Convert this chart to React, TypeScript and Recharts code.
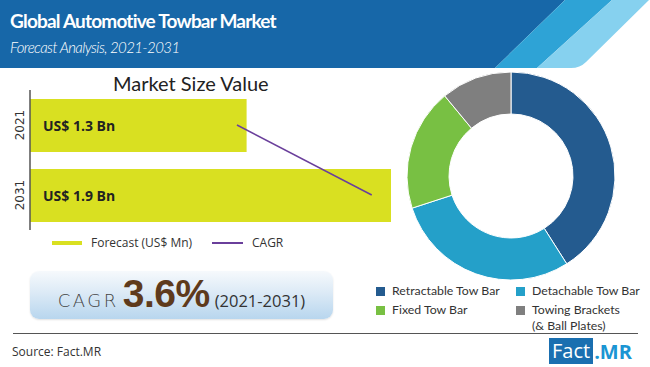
import { ComposedChart, Bar, Line, XAxis, YAxis, LabelList, PieChart, Pie, Cell } from "recharts";

const years = ["2021", "2031"];
const marketSize = [1.3, 1.9]; // US$ Bn
const cagrTrend = [1.26, 1.82];

const segments = [
  "Retractable Tow Bar",
  "Detachable Tow Bar",
  "Fixed Tow Bar",
  "Towing Brackets\n(& Ball Plates)",
];
const shares = [41, 29, 19, 11];
const segmentColors = ["#245B8F", "#24A0C9", "#78C043", "#7F7F7F"];

const barData = years.map((year, i) => ({ year, value: marketSize[i], cagr: cagrTrend[i] }));
const pieData = segments.map((name, i) => ({ name, value: shares[i] }));

const BAR_COLOR = "#D9E021";
const LINE_COLOR = "#6A3F9B";

const YearTick = (props: any) => {
  const { x, y, payload } = props;
  return (
    <text
      x={x}
      y={y}
      transform={`rotate(-90 ${x} ${y})`}
      textAnchor="middle"
      dominantBaseline="central"
      fontSize={12}
      fontFamily="'DejaVu Sans'"
      fill="#333"
    >
      {payload.value}
    </text>
  );
};

const ValueLabel = (props: any) => {
  const { x, y, height, value } = props;
  return (
    <text
      x={x + 13}
      y={y + height / 2}
      dominantBaseline="central"
      fontSize={14}
      fontWeight={700}
      fontFamily="'Open Sans'"
      fill="#222"
    >
      {`US$ ${value} Bn`}
    </text>
  );
};

export default function App() {
  return (
    <div
      style={{
        position: "absolute",
        left: 0,
        top: 0,
        width: 650,
        height: 367,
        background: "#fff",
        overflow: "hidden",
        fontFamily: "Lato, sans-serif",
      }}
    >
      {/* header band */}
      <svg width={650} height={68} style={{ position: "absolute", left: 0, top: 0 }}>
        <polygon points="0,0 565,0 495,68 0,68" fill="#1767A8" />
        <polygon points="565,0 612,0 537,68 495,68" fill="#2EA3D6" />
        <path d="M612,0 L649,0 L586,62 Q580,68 571,68 L537,68 Z" fill="#86D1EF" />
      </svg>
      <div
        style={{
          position: "absolute",
          left: 10,
          top: 9,
          color: "#fff",
          fontSize: 19,
          fontWeight: 700,
          letterSpacing: -0.8,
          whiteSpace: "nowrap",
        }}
      >
        Global Automotive Towbar Market
      </div>
      <div
        style={{
          position: "absolute",
          left: 10,
          top: 38,
          color: "#fff",
          fontSize: 15,
          fontStyle: "italic",
          fontWeight: 300,
          letterSpacing: -0.6,
          whiteSpace: "nowrap",
        }}
      >
        Forecast Analysis, 2021-2031
      </div>

      {/* market size bars */}
      <div style={{ position: "absolute", left: 113, top: 71, fontSize: 20, color: "#222", whiteSpace: "nowrap" }}>
        Market Size Value
      </div>
      <div style={{ position: "absolute", left: 0, top: 90 }}>
        <ComposedChart
          width={400}
          height={140}
          data={barData}
          layout="vertical"
          margin={{ top: 0, right: 9, bottom: 0, left: 0 }}
        >
          <XAxis type="number" domain={[0.4, 1.9]} allowDataOverflow hide />
          <YAxis
            type="category"
            dataKey="year"
            width={30}
            tickLine={false}
            tickSize={0}
            tickMargin={10}
            axisLine={{ stroke: "#555", strokeWidth: 1.5 }}
            tick={<YearTick />}
          />
          <Bar dataKey="value" fill={BAR_COLOR} barSize={53} isAnimationActive={false}>
            <LabelList dataKey="value" content={<ValueLabel />} />
          </Bar>
          <Line
            dataKey="cagr"
            stroke={LINE_COLOR}
            strokeWidth={1.5}
            dot={false}
            activeDot={false}
            isAnimationActive={false}
          />
        </ComposedChart>
      </div>

      {/* bar legend */}
      <div style={{ position: "absolute", left: 52, top: 241, width: 30, height: 4, background: BAR_COLOR }} />
      <div style={{ position: "absolute", left: 91, top: 234, fontSize: 12, color: "#333", fontFamily: "'Open Sans'" }}>
        Forecast (US$ Mn)
      </div>
      <div style={{ position: "absolute", left: 212, top: 242, width: 31, height: 2, background: LINE_COLOR }} />
      <div style={{ position: "absolute", left: 252, top: 234, fontSize: 12, color: "#333", fontFamily: "'Open Sans'" }}>
        CAGR
      </div>

      {/* CAGR box */}
      <div
        style={{
          position: "absolute",
          left: 30,
          top: 271,
          width: 303,
          height: 48,
          borderRadius: 9,
          background: "linear-gradient(to bottom, #F6F9FC 0%, #DCEAF6 45%, #B8D6EE 100%)",
          boxShadow: "0 1px 2px rgba(0,0,0,0.12)",
          display: "flex",
          alignItems: "baseline",
          justifyContent: "center",
          boxSizing: "border-box",
          whiteSpace: "nowrap",
          lineHeight: "46px",
        }}
      >
        <span style={{ fontSize: 18, letterSpacing: 2.5, color: "#444", fontFamily: "'DejaVu Sans'", fontWeight: 300 }}>
          CAGR
        </span>
        <span
          style={{
            fontSize: 39,
            fontWeight: 700,
            color: "#5E3A1C",
            fontFamily: "'Liberation Sans'",
            margin: "0 5px 0 4px",
            letterSpacing: -0.5,
          }}
        >
          3.6%
        </span>
        <span style={{ fontSize: 16.5, color: "#333", fontFamily: "'Open Sans'" }}>(2021-2031)</span>
      </div>

      {/* donut */}
      <div style={{ position: "absolute", left: 400, top: 65 }}>
        <PieChart width={222} height={222}>
          <Pie
            data={pieData}
            dataKey="value"
            cx="50%"
            cy="50%"
            innerRadius={62}
            outerRadius={104}
            startAngle={90}
            endAngle={-270}
            stroke="#fff"
            strokeWidth={1}
            isAnimationActive={false}
          >
            {pieData.map((d, i) => (
              <Cell key={d.name} fill={segmentColors[i]} />
            ))}
          </Pie>
        </PieChart>
      </div>

      {/* donut legend */}
      {pieData.map((d, i) => (
        <div
          key={d.name}
          style={{
            position: "absolute",
            left: i % 2 === 0 ? 376 : 516,
            top: i < 2 ? 283 : 302,
            display: "flex",
            alignItems: "flex-start",
          }}
        >
          <div style={{ width: 9, height: 9, background: segmentColors[i], marginTop: 4, marginRight: 7 }} />
          <div
            style={{
              fontSize: 12.3,
              lineHeight: "16px",
              color: "#333",
              fontFamily: "Lato",
              whiteSpace: "pre",
            }}
          >
            {d.name}
          </div>
        </div>
      ))}

      {/* footer */}
      <div style={{ position: "absolute", left: 13, top: 333, width: 625, height: 1, background: "#555" }} />
      <div style={{ position: "absolute", left: 12, top: 343, fontSize: 12, color: "#333", fontFamily: "'Open Sans'" }}>
        Source: Fact.MR
      </div>
      <div
        style={{
          position: "absolute",
          left: 549,
          top: 338,
          height: 26,
          display: "flex",
          alignItems: "center",
          fontFamily: "'Open Sans'",
          fontSize: 20,
          fontWeight: 700,
        }}
      >
        <span style={{ background: "#1A6FB0", color: "#fff", padding: "0 3px", lineHeight: "26px", fontWeight: 400 }}>
          Fact
        </span>
        <span style={{ color: "#1B95D3", marginLeft: 1 }}>.MR</span>
      </div>
    </div>
  );
}
